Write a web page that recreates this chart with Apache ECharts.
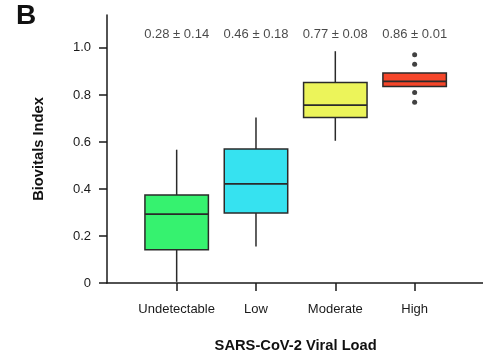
<!DOCTYPE html>
<html><head><meta charset="utf-8">
<script src="https://cdn.jsdelivr.net/npm/echarts@6/dist/echarts.min.js"></script>
<style>html,body{margin:0;padding:0;background:#fff}#c{width:483px;height:355px}</style>
</head><body><div id="c"></div>
<script>
const categories = ['Undetectable', 'Low', 'Moderate', 'High'];
const boxMin    = [0.005, 0.155, 0.605, 0.836];
const boxQ1     = [0.141, 0.298, 0.704, 0.836];
const boxMedian = [0.293, 0.422, 0.757, 0.858];
const boxQ3     = [0.374, 0.570, 0.853, 0.893];
const boxMax    = [0.567, 0.704, 0.986, 0.893];
const outliers  = [['High', 0.971], ['High', 0.930], ['High', 0.810], ['High', 0.769]];
const annotations = ['0.28 ± 0.14', '0.46 ± 0.18', '0.77 ± 0.08', '0.86 ± 0.01'];
const annotationY = 1.057;
const yTicks = [0, 0.2, 0.4, 0.6, 0.8, 1.0];

const boxColors = ['#36f26f', '#36e2f0', '#ecf45a', '#f5462a'];
const FONT = "'Liberation Sans', Arial, Helvetica, sans-serif";
const INK = '#1a1a1a';

const boxData = categories.map((c, i) => [i, boxMin[i], boxQ1[i], boxMedian[i], boxQ3[i], boxMax[i]]);

function renderBox(params, api) {
  const i = api.value(0);
  const lo = api.value(1), q1 = api.value(2), med = api.value(3), q3 = api.value(4), hi = api.value(5);
  const band = api.size([1, 0])[0];
  const w = band * 0.8;
  const pMin = api.coord([i, lo]), pQ1 = api.coord([i, q1]), pMed = api.coord([i, med]),
        pQ3 = api.coord([i, q3]), pMax = api.coord([i, hi]);
  const x = pMed[0];
  const stroke = '#2a2a2a';
  const children = [];
  if (hi > q3) children.push({type: 'line', shape: {x1: x, y1: pMax[1], x2: x, y2: pQ3[1]}, style: {stroke, lineWidth: 1.5}});
  if (lo < q1) children.push({type: 'line', shape: {x1: x, y1: pQ1[1], x2: x, y2: pMin[1]}, style: {stroke, lineWidth: 1.5}});
  children.push({type: 'rect', shape: {x: x - w / 2, y: pQ3[1], width: w, height: pQ1[1] - pQ3[1]},
                 style: {fill: boxColors[params.dataIndex], stroke, lineWidth: 1.5}});
  children.push({type: 'line', shape: {x1: x - w / 2, y1: pMed[1], x2: x + w / 2, y2: pMed[1]}, style: {stroke, lineWidth: 1.8}});
  return {type: 'group', children};
}

const chart = echarts.init(document.getElementById('c'), null, {renderer: 'canvas'});
chart.setOption({
  animation: false,
  backgroundColor: '#fff',
  textStyle: {fontFamily: FONT},
  graphic: [{type: 'text', left: 16, top: 2, style: {text: 'B', font: 'bold 28px ' + FONT, fill: '#111'}}],
  grid: [
    {left: 107, right: 0, top: 15, bottom: 72, containLabel: false, outerBoundsMode: 'none'},
    {left: 137, right: 28.7, top: 15, bottom: 72, containLabel: false, outerBoundsMode: 'none'}
  ],
  xAxis: [
    {gridIndex: 0, type: 'value', min: 0, max: 1,
     axisLine: {show: true, lineStyle: {color: INK, width: 1.5}},
     axisTick: {show: false}, axisLabel: {show: false}, splitLine: {show: false}},
    {gridIndex: 1, type: 'category', data: categories,
     name: 'SARS-CoV-2 Viral Load', nameLocation: 'middle', nameGap: 55,
     nameTextStyle: {fontFamily: FONT, fontSize: 14.7, fontWeight: 'bold', color: '#111'},
     axisLine: {show: false},
     axisTick: {show: true, alignWithLabel: true, interval: 0, length: 8, lineStyle: {color: INK, width: 1.5}},
     axisLabel: {fontFamily: FONT, fontSize: 13, color: INK, margin: 20, interval: 0},
     splitLine: {show: false}}
  ],
  yAxis: [
    {gridIndex: 0, type: 'value', min: 0, max: 1.14,
     name: 'Biovitals Index', nameLocation: 'middle', nameGap: 61,
     nameTextStyle: {fontFamily: FONT, fontSize: 14.7, fontWeight: 'bold', color: '#111'},
     axisLine: {show: true, lineStyle: {color: INK, width: 1.5}},
     axisTick: {show: true, length: 8, lineStyle: {color: INK, width: 1.5}, customValues: yTicks},
     axisLabel: {fontFamily: FONT, fontSize: 13, color: INK, margin: 16, customValues: yTicks,
                 formatter: v => (v === 0 ? '0' : v.toFixed(1))},
     splitLine: {show: false}},
    {gridIndex: 1, type: 'value', min: 0, max: 1.14, show: false, splitLine: {show: false}}
  ],
  series: [
    {type: 'custom', xAxisIndex: 1, yAxisIndex: 1, data: boxData, renderItem: renderBox,
     encode: {x: 0, y: [1, 2, 3, 4, 5]}, z: 2},
    {type: 'scatter', xAxisIndex: 1, yAxisIndex: 1, data: outliers, symbol: 'circle', symbolSize: 5,
     itemStyle: {color: '#111'}, z: 3},
    {type: 'scatter', xAxisIndex: 1, yAxisIndex: 1, symbolSize: 0,
     data: categories.map((c, i) => [c, annotationY]),
     label: {show: true, position: 'inside', formatter: p => annotations[p.dataIndex],
             fontFamily: FONT, fontSize: 13, color: INK}, z: 3}
  ]
});
</script></body></html>
